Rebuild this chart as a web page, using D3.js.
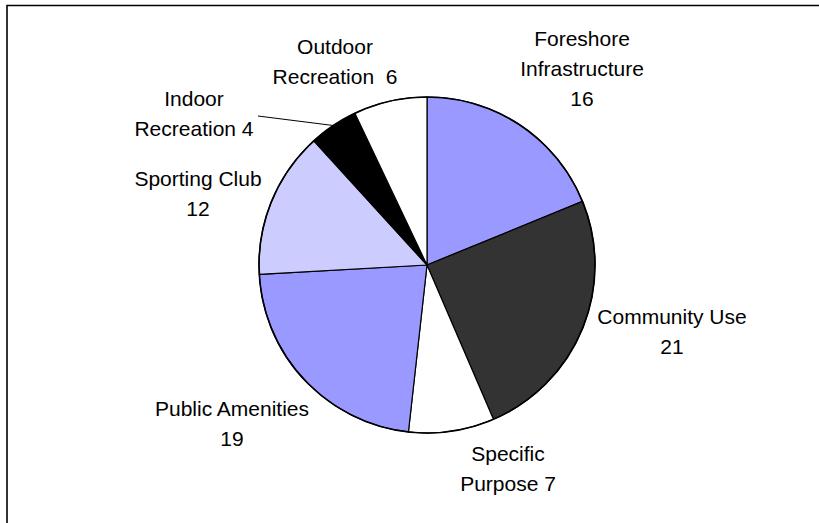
<!DOCTYPE html>
<html>
<head>
<meta charset="utf-8">
<script src="https://cdn.jsdelivr.net/npm/d3@7"></script>
<style>
  html, body { margin: 0; padding: 0; background: #fff; }
  svg { display: block; }
  text { font-family: "Liberation Sans", Arial, sans-serif; fill: #000; white-space: pre; }
</style>
</head>
<body>
<svg id="chart" width="819" height="523"></svg>
<script>
// Facility categories, clockwise from twelve o'clock
const categories = [
  "Foreshore Infrastructure",
  "Community Use",
  "Specific Purpose",
  "Public Amenities",
  "Sporting Club",
  "Indoor Recreation",
  "Outdoor Recreation"
];
const counts = [16, 21, 7, 19, 12, 4, 6];

// Label text lines (the count appears in the last line)
const labelLines = [
  ["Foreshore", "Infrastructure", "16"],
  ["Community Use", "21"],
  ["Specific", "Purpose 7"],
  ["Public Amenities", "19"],
  ["Sporting Club", "12"],
  ["Indoor", "Recreation 4"],
  ["Outdoor", "Recreation  6"]
];

const fills = ["#9999ff", "#333333", "#ffffff", "#9999ff", "#ccccff", "#000000", "#ffffff"];

// Label block centres (x, first line y)
const labelPos = [
  [582, 38], [672, 316], [508, 453], [232, 408], [198, 178], [194, 98], [335, 46]
];

const svg = d3.select("#chart");
const cx = 427, cy = 265, r = 168;

// chart frame (top and left edges)
svg.append("path")
  .attr("d", "M7,523 V5.5 H819")
  .attr("fill", "none")
  .attr("stroke", "#000")
  .attr("stroke-width", 1.6);

const data = categories.map((c, i) => ({ name: c, value: counts[i], i }));

const pie = d3.pie().value(d => d.value).sort(null).startAngle(0).endAngle(2 * Math.PI);
const arcs = pie(data);
const arc = d3.arc().innerRadius(0).outerRadius(r);

const g = svg.append("g").attr("transform", `translate(${cx},${cy})`);

g.selectAll("path.slice")
  .data(arcs)
  .join("path")
  .attr("class", "slice")
  .attr("d", arc)
  .attr("fill", d => fills[d.data.i])
  .attr("stroke", "#000")
  .attr("stroke-width", 1.2)
  .attr("stroke-linejoin", "round");

// outer rim
g.append("circle").attr("r", r).attr("fill", "none").attr("stroke", "#000").attr("stroke-width", 1.6);

// labels
const fontSize = 21, lineH = 30;
labelLines.forEach((lines, i) => {
  const t = svg.append("text")
    .attr("text-anchor", "middle")
    .attr("font-size", fontSize);
  lines.forEach((ln, k) => {
    t.append("tspan")
      .attr("x", labelPos[i][0])
      .attr("y", labelPos[i][1] + k * lineH + fontSize * 0.36)
      .text(ln);
  });
});

// leader line for the small Indoor Recreation slice
const indoor = arcs[5];
const mid = (indoor.startAngle + indoor.endAngle) / 2;
const ex = cx + r * Math.sin(mid), ey = cy - r * Math.cos(mid);
svg.append("line")
  .attr("x1", 258).attr("y1", 116)
  .attr("x2", ex).attr("y2", ey)
  .attr("stroke", "#000")
  .attr("stroke-width", 1);
</script>
</body>
</html>
